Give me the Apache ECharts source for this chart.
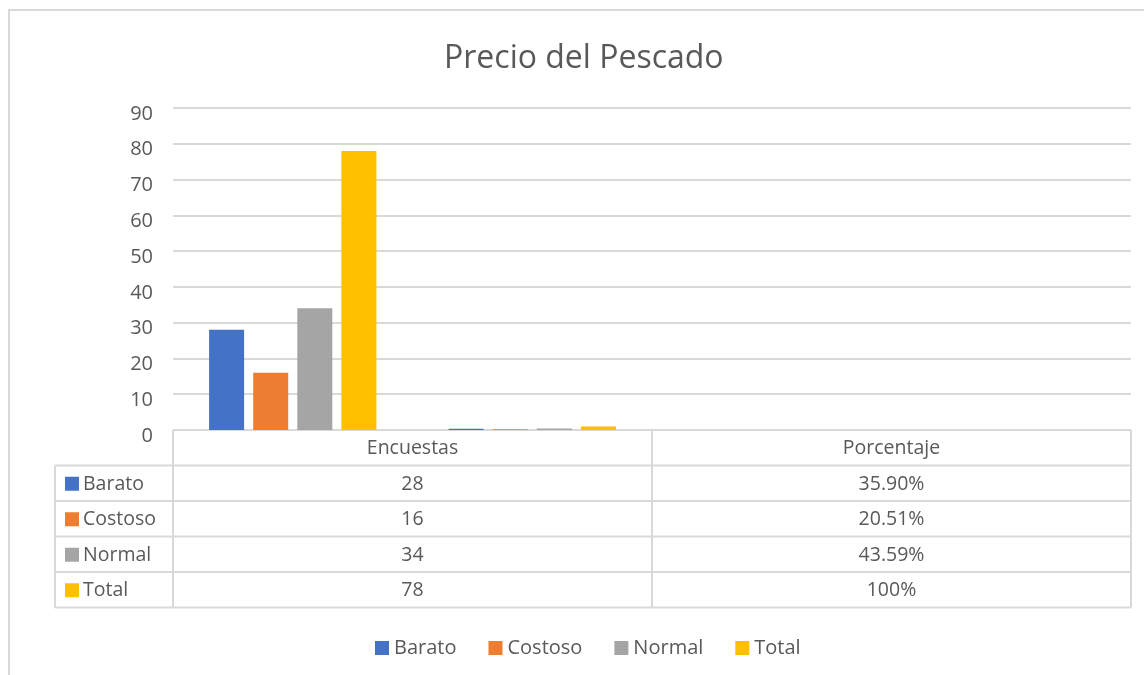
<!DOCTYPE html>
<html>
<head>
<meta charset="utf-8">
<script src="https://cdn.jsdelivr.net/npm/echarts@6/dist/echarts.min.js"></script>
<style>
  html, body { margin: 0; padding: 0; background: #fff; }
  #chart { width: 1144px; height: 675px; }
</style>
</head>
<body>
<div id="chart"></div>
<script>
// data
const categories = ['Encuestas', 'Porcentaje'];
const seriesNames = ['Barato', 'Costoso', 'Normal', 'Total'];
const encuestas = [28, 16, 34, 78];
const porcentaje = [0.359, 0.2051, 0.4359, 1];
const porcentajeLabels = ['35.90%', '20.51%', '43.59%', '100%'];
const yTicks = [0, 10, 20, 30, 40, 50, 60, 70, 80, 90];
const colors = ['#4472c4', '#ed7d31', '#a5a5a5', '#ffc000'];

const FONT = '"Open Sans", sans-serif';
const TXT = '#595959';
const LINE = '#d9d9d9';

// layout
const gridLeft = 173, gridRight = 1131, gridTop = 108, gridBottom = 430;
const tableLeft = 55, rowH = 35.5;

const chart = echarts.init(document.getElementById('chart'));

// the bars sit in four equal slots, the table has two columns
const axisCats = categories.concat(['', '']);

let series = seriesNames.map(function (name, i) {
    return {
        name: name,
        type: 'bar',
        barWidth: 35,
        barGap: '26%',
        itemStyle: {color: colors[i]},
        data: [encuestas[i], porcentaje[i], null, null]
    };
});

// data table drawn with graphic elements
let graphics = [];
const midX = (gridLeft + gridRight) / 2;
const colX = [gridLeft, midX, gridRight];
const nRows = seriesNames.length;
const tableBottom = gridBottom + rowH * (nRows + 1);

function hline(x1, x2, y) {
    graphics.push({type: 'line', shape: {x1: x1, y1: y, x2: x2, y2: y},
        style: {stroke: LINE, lineWidth: 2}, silent: true});
}
function vline(x, y1, y2) {
    graphics.push({type: 'line', shape: {x1: x, y1: y1, x2: x, y2: y2},
        style: {stroke: LINE, lineWidth: 2}, silent: true});
}
function cellText(txt, x, y, align) {
    graphics.push({type: 'text', x: x, y: y,
        style: {text: txt, fill: TXT, font: '19.5px ' + FONT, textAlign: align, textVerticalAlign: 'middle'}});
}

hline(gridLeft, gridRight, gridBottom);
for (let r = 1; r <= nRows + 1; r++) {
    hline(tableLeft, gridRight, gridBottom + rowH * r);
}
vline(tableLeft, gridBottom + rowH, tableBottom);
colX.forEach(function (x) { vline(x, gridBottom, tableBottom); });

categories.forEach(function (c, j) {
    cellText(c, (colX[j] + colX[j + 1]) / 2, gridBottom + rowH / 2 + 1, 'center');
});
seriesNames.forEach(function (name, i) {
    const cy = gridBottom + rowH * (i + 1.5) + 1;
    graphics.push({type: 'rect', shape: {x: 65, y: cy - 7.5, width: 14, height: 14},
        style: {fill: colors[i]}, silent: true});
    cellText(name, 83, cy, 'left');
    cellText(String(encuestas[i]), (colX[0] + colX[1]) / 2, cy, 'center');
    cellText(porcentajeLabels[i], (colX[1] + colX[2]) / 2, cy, 'center');
});

// outer chart border
graphics.push({type: 'rect', shape: {x: 9, y: 10, width: 1160, height: 700},
    style: {fill: null, stroke: LINE, lineWidth: 2}, silent: true, z: -1});

let options = {
    animation: false,
    textStyle: {fontFamily: FONT},
    title: {
        text: 'Precio del Pescado',
        left: 439,
        top: 38,
        textStyle: {fontSize: 32, fontWeight: 'normal', color: TXT, fontFamily: FONT}
    },
    legend: {
        data: seriesNames,
        bottom: 12,
        left: 370,
        icon: 'rect',
        itemWidth: 14,
        itemHeight: 14,
        itemGap: 32,
        textStyle: {fontSize: 20, color: TXT, fontFamily: FONT}
    },
    grid: {
        left: gridLeft,
        right: 1144 - gridRight,
        top: gridTop,
        bottom: 675 - gridBottom
    },
    xAxis: {
        type: 'category',
        data: axisCats,
        axisLine: {show: false},
        axisTick: {show: false},
        axisLabel: {show: false}
    },
    yAxis: {
        type: 'value',
        min: yTicks[0],
        max: yTicks[yTicks.length - 1],
        interval: yTicks[1] - yTicks[0],
        axisLine: {show: false},
        axisTick: {show: false},
        axisLabel: {fontSize: 20, color: TXT, margin: 20, fontFamily: FONT,
            verticalAlign: 'top', lineHeight: 12},
        splitLine: {lineStyle: {color: LINE, width: 2}}
    },
    graphic: graphics,
    series: series
};
chart.setOption(options);
</script>
</body>
</html>
